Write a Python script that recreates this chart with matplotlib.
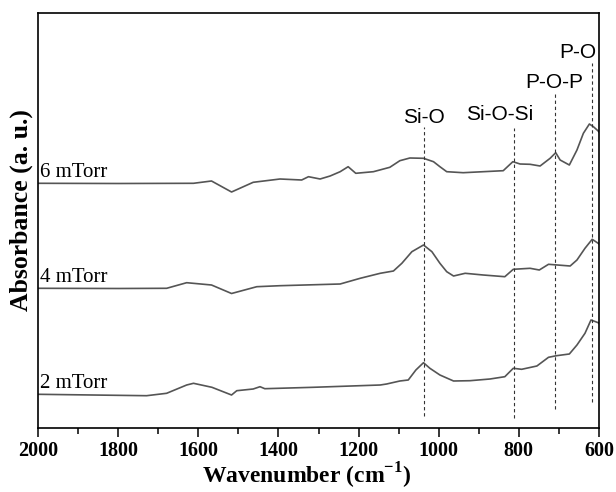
import matplotlib
matplotlib.use("Agg")
import matplotlib.pyplot as plt
from matplotlib.ticker import MultipleLocator

# ---- data (absorbance in arbitrary units, already offset) ----
wn_6 = [2000, 1800, 1612, 1567, 1517, 1463, 1396, 1342, 1325, 1296, 1271, 1246, 1226,
        1207, 1163, 1122, 1097, 1072, 1038, 1013, 997, 980, 939, 839, 815, 797, 772,
        747, 722, 708, 697, 674, 655, 639, 624, 614, 602, 600]
abs_6 = [2.447, 2.445, 2.447, 2.47, 2.36, 2.457, 2.49, 2.48, 2.513, 2.49, 2.52, 2.563,
         2.613, 2.547, 2.563, 2.607, 2.673, 2.70, 2.697, 2.663, 2.613, 2.563, 2.553,
         2.573, 2.663, 2.64, 2.637, 2.62, 2.697, 2.753, 2.68, 2.63, 2.78, 2.947, 3.04,
         3.013, 2.97, 2.96]

wn_4 = [2000, 1800, 1679, 1629, 1567, 1517, 1454, 1396, 1246, 1196, 1146, 1113, 1092,
        1067, 1038, 1017, 997, 980, 963, 934, 889, 835, 814, 772, 749, 726, 672, 655,
        635, 617, 602, 600]
abs_4 = [1.397, 1.395, 1.397, 1.453, 1.43, 1.345, 1.413, 1.423, 1.44, 1.497, 1.547,
         1.57, 1.647, 1.763, 1.83, 1.763, 1.647, 1.563, 1.52, 1.547, 1.53, 1.513, 1.587,
         1.597, 1.58, 1.637, 1.62, 1.68, 1.797, 1.887, 1.847, 1.84]

wn_2 = [2000, 1729, 1679, 1629, 1612, 1566, 1517, 1504, 1463, 1446, 1434, 1313, 1146,
        1130, 1097, 1076, 1057, 1038, 1022, 997, 963, 922, 872, 835, 814, 793, 755,
        726, 706, 674, 655, 635, 620, 602, 600]
abs_2 = [0.337, 0.323, 0.347, 0.43, 0.447, 0.407, 0.33, 0.373, 0.39, 0.413, 0.393,
         0.407, 0.43, 0.44, 0.47, 0.48, 0.58, 0.653, 0.597, 0.53, 0.47, 0.473, 0.49,
         0.513, 0.597, 0.587, 0.62, 0.707, 0.723, 0.74, 0.83, 0.947, 1.08, 1.053, 1.045]

series_labels = ["6 mTorr", "4 mTorr", "2 mTorr"]

peak_names = ["Si-O", "Si-O-Si", "P-O-P", "P-O"]
peak_wn = [1036, 812, 710, 617]
peak_line_top = [3.01, 3.00, 3.35, 3.65]
peak_line_bottom = [0.12, 0.10, 0.19, 0.26]
peak_text_x = [1037, 847, 712, 652]
peak_text_y = [3.05, 3.08, 3.40, 3.70]

label_y = [2.51, 1.46, 0.40]

# ---- figure ----
plt.rcParams["mathtext.fontset"] = "custom"
plt.rcParams["mathtext.rm"] = "Liberation Serif"
plt.rcParams["mathtext.bf"] = "Liberation Serif:bold"

W, H = 616, 492
fig = plt.figure(figsize=(W / 100, H / 100), dpi=100)
ax = fig.add_axes([38 / W, 1 - 428 / H, (599 - 38) / W, (428 - 13) / H])

serif = ["Liberation Serif", "DejaVu Serif"]
sans = ["Liberation Sans", "DejaVu Sans"]
lc = "#555555"

for wn, ab in [(wn_6, abs_6), (wn_4, abs_4), (wn_2, abs_2)]:
    ax.plot(wn, ab, color=lc, lw=1.2, solid_joinstyle="round")

for name, x, yt, yb, tx, ty in zip(peak_names, peak_wn, peak_line_top, peak_line_bottom,
                                    peak_text_x, peak_text_y):
    ax.plot([x, x], [yb, yt], color="#333333", lw=0.8, ls=(0, (3, 2.5)))
    ax.text(tx, ty, name, family=sans, fontsize=15, ha="center", va="baseline")

for lab, y in zip(series_labels, label_y):
    ax.text(1995, y, lab, family=serif, fontsize=15, ha="left", va="baseline")

ax.set_xlim(2000, 600)
ax.set_ylim(0, 4.15)
ax.set_yticks([])
ax.xaxis.set_major_locator(MultipleLocator(200))
ax.xaxis.set_minor_locator(MultipleLocator(100))
ax.tick_params(axis="x", which="major", direction="out", length=6.5, width=1.1, pad=3)
ax.tick_params(axis="x", which="minor", direction="out", length=4, width=1.1)
for lbl in ax.get_xticklabels():
    lbl.set_fontfamily(serif)
    lbl.set_fontweight("bold")
    lbl.set_fontsize(14.5)
for s in ax.spines.values():
    s.set_linewidth(1.2)

fig.text(307 / W, 1 - 484 / H, r"Wavenumber (cm$^{\mathbf{-1}}$)", family=serif,
         fontweight="bold", fontsize=17, ha="center", va="baseline")
fig.text(21 / W, 1 - 210 / H, "Absorbance (a. u.)", family=serif, fontweight="bold",
         fontsize=18.5, ha="center", va="center", rotation=90)

fig.savefig("out.png", dpi=100)
